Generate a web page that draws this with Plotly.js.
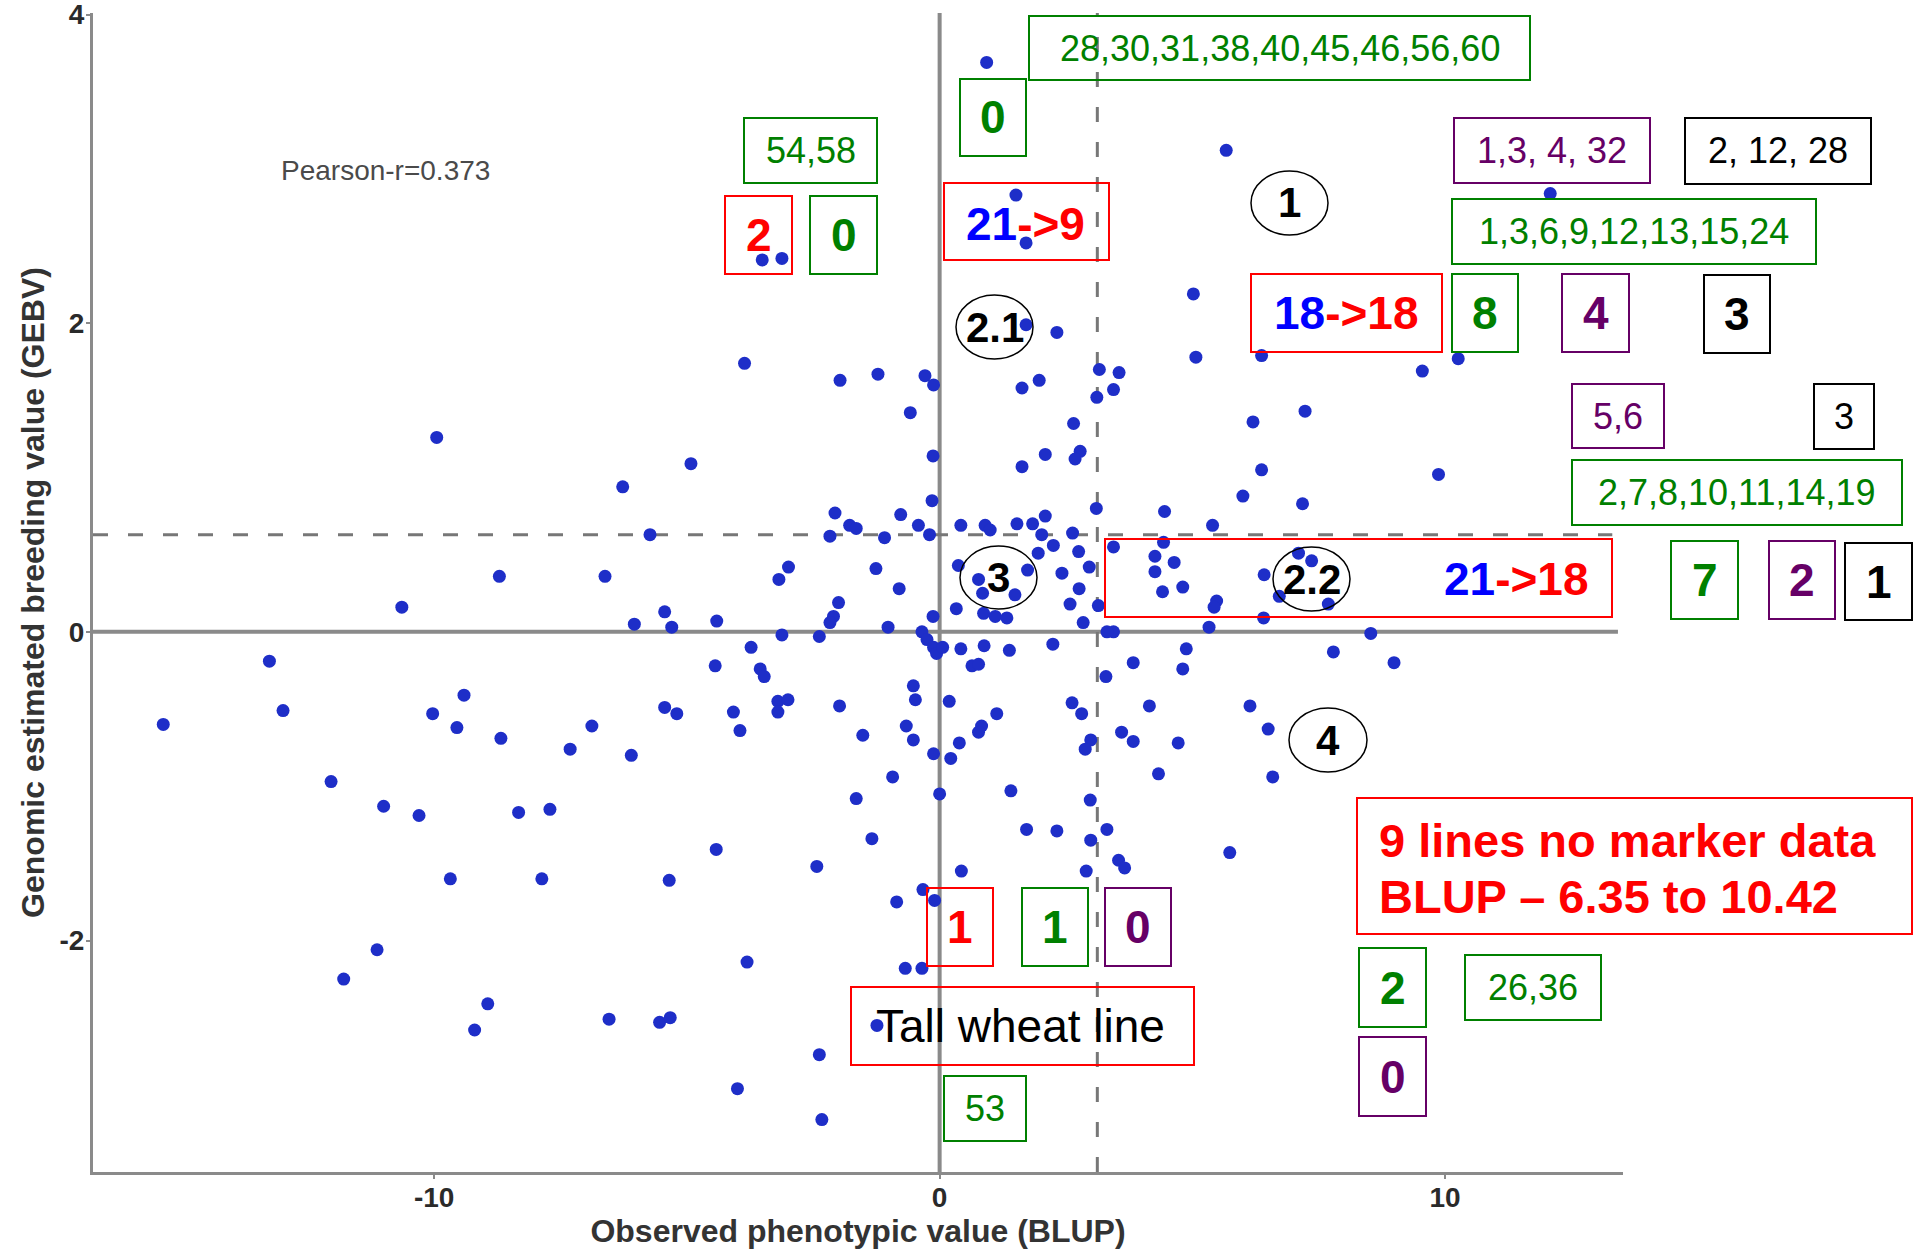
<!DOCTYPE html>
<html>
<head>
<meta charset="utf-8">
<script src="https://cdn.plot.ly/plotly-3.0.1.min.js"></script>
<style>html,body{margin:0;padding:0;background:#fff;}#chart{width:1921px;height:1253px;}</style>
</head>
<body>
<div id="chart"></div>
<script>
// ---------------- DATA ----------------
const blup = [
 0.93,-3.51,-3.12,1.51,1.71,1.71,2.32,-3.86,-1.97,-1.22,-0.29,-0.12,1.63,1.97,3.16,3.55,3.44,
 5.67,12.08,5.02,5.07,6.37,9.55,10.26,
 -9.95,-8.71,-6.62,-10.64,-13.26,-12.99,-15.36,-9.41,-10.03,-9.55,-8.68,-7.31,-6.88,-12.04,
 -11.00,-10.30,-8.33,-7.71,-9.68,-7.87,-11.13,-11.79,-8.94,-9.20,-6.54,
 -1.65,0.00,1.41,2.98,3.31,1.72,2.32,2.99,3.54,2.90,-1.34,-4.42,-5.35,-2.43,0.43,-0.33,-0.10,-0.85,
 -3.81,-0.68,-0.35,-5.54,-5.33,-1.24,-2.38,-4.00,-2.33,
 5.74,3.66,
 7.23,6.20,6.37,9.87,6.00,7.18,4.45,5.40,3.44,4.43,4.26,4.26,4.64,4.81,4.41,5.48,5.43,6.42,7.10,7.36,
 6.72,7.69,6.41,5.33,3.44,8.53,4.88,3.83,4.81,7.79,8.99,4.15,6.14,3.60,3.83,4.72,6.50,4.33,6.59,3.29,
 3.11,-0.58,2.65,2.09,1.63,2.78,2.68,-0.13,-4.92,-6.27,-0.15,3.10,-2.07,-0.77,2.09,-1.78,-1.65,-0.42,
 -0.20,0.42,0.90,1.00,1.53,1.84,2.02,2.63,-5.73,-2.17,-1.09,2.25,1.95,2.75,2.96,-2.99,-3.18,-1.26,
 0.37,1.74,2.42,-0.80,0.77,0.85,1.49,2.76,2.58,3.14,-2.00,-2.10,-2.17,0.33,0.87,1.10,1.33,-0.13,
 -5.44,-5.30,-6.04,-4.41,-1.02,2.84,-3.12,-2.38,-0.35,-0.25,-0.12,-0.06,0.06,0.42,0.88,1.38,2.24,3.31,
 -3.73,-4.44,-3.55,-3.47,0.64,0.77,-0.52,-0.48,0.19,-5.44,-5.20,-4.08,-3.95,-3.20,-3.00,-3.20,-1.98,
 2.62,2.81,1.13,0.83,0.77,-0.66,-0.52,-1.52,0.39,0.22,-0.12,2.99,2.88,-6.10,-0.93
];
const gebv = [
 3.69,2.41,2.42,2.83,2.52,1.99,1.94,1.74,1.63,1.67,1.66,1.60,1.58,1.63,1.70,1.68,1.57,
 3.12,2.84,2.19,1.78,1.79,1.69,1.77,
 1.26,0.36,0.36,0.16,-0.19,-0.51,-0.60,-0.41,-0.53,-0.62,-0.69,-0.76,-0.61,-0.97,
 -1.13,-1.19,-1.17,-1.15,-1.60,-1.60,-2.06,-2.25,-2.41,-2.58,-2.51,
 -1.08,-1.05,-1.03,-1.09,-1.28,-1.28,-1.29,-1.35,-1.48,-1.55,-1.34,-1.41,-1.61,-1.52,-1.55,-1.67,-1.74,-1.75,
 -2.14,-2.18,-2.18,-2.53,-2.50,-2.55,-2.74,-2.96,-3.16,
 -1.43,-1.53,
 1.43,1.36,1.05,1.02,0.88,0.83,0.78,0.69,0.55,0.58,0.49,0.39,0.45,0.29,0.26,0.20,0.16,0.37,0.51,0.46,
 0.23,0.18,0.09,0.03,0.00,-0.01,-0.11,-0.20,-0.24,-0.13,-0.20,-0.48,-0.48,-0.65,-0.71,-0.72,-0.63,-0.92,-0.94,-0.29,
 1.52,1.42,1.35,1.15,1.07,1.17,1.12,1.14,1.09,0.94,0.85,0.80,0.77,0.76,0.75,0.69,0.67,0.69,
 0.63,0.69,0.69,0.66,0.70,0.70,0.63,0.64,0.63,0.62,0.61,0.56,0.51,0.52,0.42,0.42,0.34,0.41,
 0.43,0.40,0.38,0.28,0.34,0.25,0.24,0.28,0.18,0.17,0.19,0.10,0.06,0.15,0.12,0.10,0.09,0.10,
 0.13,0.03,0.05,0.07,0.03,0.06,-0.02,-0.03,0.00,-0.05,-0.10,-0.14,-0.10,-0.11,-0.09,-0.12,-0.08,0.00,
 -0.10,-0.22,-0.24,-0.29,-0.22,-0.21,-0.35,-0.44,-0.45,-0.49,-0.53,-0.52,-0.64,-0.45,-0.44,-0.52,-0.48,
 -0.46,-0.53,-0.53,-0.61,-0.65,-0.61,-0.70,-0.67,-0.72,-0.82,-0.79,-0.70,-0.76,-0.80,-0.94
];
const xTickVals = [-10, 0, 10];
const yTickVals = [-2, 0, 2, 4];
const blupCut = 3.12;   // dashed vertical reference
const gebvCut = 0.63;   // dashed horizontal reference
const pearsonLabel = 'Pearson-r=0.373';
const xTitle = 'Observed phenotypic value (BLUP)';
const yTitle = 'Genomic estimated breeding value (GEBV)';

// ---------------- LAYOUT HELPERS ----------------
const L = 93, R = 1623, T = 13, B = 1172;
const px = v => (v - L) / (R - L);
const py = v => (B - v) / (B - T);
const FONT = 'Liberation Sans, Arial, sans-serif';
const G = '#008000', RED = '#ff0000', BLU = '#0000ff', PUR = '#660066', BLK = '#000000';

const boxes = [
 {b:[1029,1530,16,80],   c:G,   t:'28,30,31,38,40,45,46,56,60', s:36, tc:G},
 {b:[960,1026,79,156],   c:G,   t:'<b>0</b>', s:46, tc:G},
 {b:[744,877,118,183],   c:G,   t:'54,58', s:36, tc:G},
 {b:[725,792,196,274],   c:RED, t:'<b>2</b>', s:46, tc:RED},
 {b:[810,877,196,274],   c:G,   t:'<b>0</b>', s:46, tc:G},
 {b:[944,1109,183,260],  c:RED, t:'<span style="color:'+BLU+'"><b>21</b></span><b>-&gt;9</b>', s:46, tc:RED, cx:1025, cy:224},
 {b:[1454,1650,118,183], c:PUR, t:'1,3, 4, 32', s:36, tc:PUR},
 {b:[1685,1871,118,184], c:BLK, t:'2, 12, 28', s:36, tc:BLK},
 {b:[1452,1816,199,264], c:G,   t:'1,3,6,9,12,13,15,24', s:36, tc:G},
 {b:[1251,1442,274,352], c:RED, t:'<span style="color:'+BLU+'"><b>18</b></span><b>-&gt;18</b>', s:46, tc:RED},
 {b:[1452,1518,274,352], c:G,   t:'<b>8</b>', s:46, tc:G},
 {b:[1562,1629,274,352], c:PUR, t:'<b>4</b>', s:46, tc:PUR},
 {b:[1704,1770,275,353], c:BLK, t:'<b>3</b>', s:46, tc:BLK},
 {b:[1572,1664,384,448], c:PUR, t:'5,6', s:36, tc:PUR},
 {b:[1814,1874,384,449], c:BLK, t:'3', s:36, tc:BLK},
 {b:[1572,1902,460,525], c:G,   t:'2,7,8,10,11,14,19', s:36, tc:G},
 {b:[1105,1612,539,617], c:RED, t:'<span style="color:'+BLU+'"><b>21</b></span><b>-&gt;18</b>', s:46, tc:RED, cx:1516, cy:579},
 {b:[1671,1738,541,619], c:G,   t:'<b>7</b>', s:46, tc:G},
 {b:[1769,1835,541,619], c:PUR, t:'<b>2</b>', s:46, tc:PUR},
 {b:[1845,1912,543,620], c:BLK, t:'<b>1</b>', s:46, tc:BLK},
 {b:[927,993,888,966],   c:RED, t:'<b>1</b>', s:46, tc:RED},
 {b:[1022,1088,888,966], c:G,   t:'<b>1</b>', s:46, tc:G},
 {b:[1105,1171,888,966], c:PUR, t:'<b>0</b>', s:46, tc:PUR},
 {b:[1357,1912,798,934], c:RED, t:'', s:46, tc:RED},
 {b:[851,1194,987,1065], c:RED, t:'Tall wheat line', s:46, tc:BLK, cx:1021},
 {b:[944,1026,1076,1141],c:G,   t:'53', s:36, tc:G},
 {b:[1359,1426,948,1027],c:G,   t:'<b>2</b>', s:46, tc:G},
 {b:[1465,1601,955,1020],c:G,   t:'26,36', s:36, tc:G},
 {b:[1359,1426,1037,1116],c:PUR,t:'<b>0</b>', s:46, tc:PUR}
];
const ellipses = [
 {b:[956,1033,295,359], t:'2.1'},
 {b:[1251,1328,171,235], t:'1'},
 {b:[960,1037,546,609], t:'3'},
 {b:[1273,1350,547,611], t:'2.2'},
 {b:[1289,1367,708,772], t:'4'}
];

const shapes = [];
const annotations = [];

// reference lines
shapes.push({type:'line', xref:'x', yref:'paper', x0:0, x1:0, y0:0, y1:1, line:{color:'#8a8a8a', width:4}, layer:'below'});
shapes.push({type:'line', xref:'paper', yref:'y', x0:0, x1:0.9967, y0:0, y1:0, line:{color:'#8a8a8a', width:4}, layer:'below'});
shapes.push({type:'line', xref:'x', yref:'paper', x0:blupCut, x1:blupCut, y0:0, y1:1, line:{color:'#777', width:3, dash:'15px,20px'}, layer:'below'});
shapes.push({type:'line', xref:'paper', yref:'y', x0:0, x1:0.993, y0:gebvCut, y1:gebvCut, line:{color:'#777', width:3, dash:'15px,20px'}, layer:'below'});

boxes.forEach(o => {
  const [x0,x1,y0,y1] = o.b;
  shapes.push({type:'rect', xref:'paper', yref:'paper', x0:px(x0), x1:px(x1), y0:py(y1), y1:py(y0),
    line:{color:o.c, width:2}, fillcolor:'rgba(0,0,0,0)', layer:'above'});
  if (o.t) {
    annotations.push({xref:'paper', yref:'paper', x:px(o.cx !== undefined ? o.cx : (x0+x1)/2),
      y:py(o.cy !== undefined ? o.cy : (y0+y1)/2), xanchor:'center', yanchor:'middle',
      text:o.t, showarrow:false, font:{family:FONT, size:o.s, color:o.tc}});
  }
});
annotations.push({xref:'paper', yref:'paper', x:px(1377), y:py(840), xanchor:'left', yanchor:'middle',
  text:'<b>9 lines no marker data</b>', showarrow:false, font:{family:FONT, size:47, color:RED}});
annotations.push({xref:'paper', yref:'paper', x:px(1377), y:py(896), xanchor:'left', yanchor:'middle',
  text:'<b>BLUP – 6.35 to 10.42</b>', showarrow:false, font:{family:FONT, size:47, color:RED}});

ellipses.forEach(o => {
  const [x0,x1,y0,y1] = o.b;
  shapes.push({type:'circle', xref:'paper', yref:'paper', x0:px(x0), x1:px(x1), y0:py(y1), y1:py(y0),
    line:{color:'#000', width:1.5}, fillcolor:'rgba(0,0,0,0)', layer:'above'});
  annotations.push({xref:'paper', yref:'paper', x:px((x0+x1)/2), y:py((y0+y1)/2), xanchor:'center', yanchor:'middle',
    text:'<b>'+o.t+'</b>', showarrow:false, font:{family:FONT, size:42, color:'#000'}});
});

annotations.push({xref:'paper', yref:'paper', x:px(385), y:py(170), xanchor:'center', yanchor:'middle',
  text:pearsonLabel, showarrow:false, font:{family:FONT, size:28, color:'#4a4a4a'}});

const trace = {
  type:'scatter', mode:'markers', x:blup, y:gebv,
  marker:{color:'#1e2ec8', size:13, line:{width:0}},
  hoverinfo:'x+y', showlegend:false
};

const axisCommon = {
  showgrid:false, zeroline:false, showline:true, linecolor:'#8a8a8a', linewidth:3,
  ticks:'outside', ticklen:4, tickwidth:2, tickcolor:'#8a8a8a',
  ticklabeloverflow:'allow',
  tickfont:{family:FONT, size:28, color:'#2a2a2a', weight:'bold'}
};

const layout = {
  width:1921, height:1253,
  margin:{l:L, r:1921-R, t:T, b:1253-B, autoexpand:false},
  paper_bgcolor:'#ffffff', plot_bgcolor:'#ffffff',
  font:{family:FONT},
  xaxis:Object.assign({}, axisCommon, {range:[-16.75, 13.52], tickvals:xTickVals, ticktext:xTickVals.map(String),
    ticklabelstandoff:-6,
    title:{text:'<b>'+xTitle+'</b>', font:{family:FONT, size:32, color:'#333333'}, standoff:0}}),
  yaxis:Object.assign({}, axisCommon, {range:[-3.50, 4.01], tickvals:yTickVals, ticktext:yTickVals.map(String),
    ticklabelstandoff:-4,
    title:{text:'<b>'+yTitle+'</b>', font:{family:FONT, size:32, color:'#333333'}, standoff:6}}),
  shapes:shapes,
  annotations:annotations
};

Plotly.newPlot('chart', [trace], layout, {displayModeBar:false, staticPlot:true});
</script>
</body>
</html>
